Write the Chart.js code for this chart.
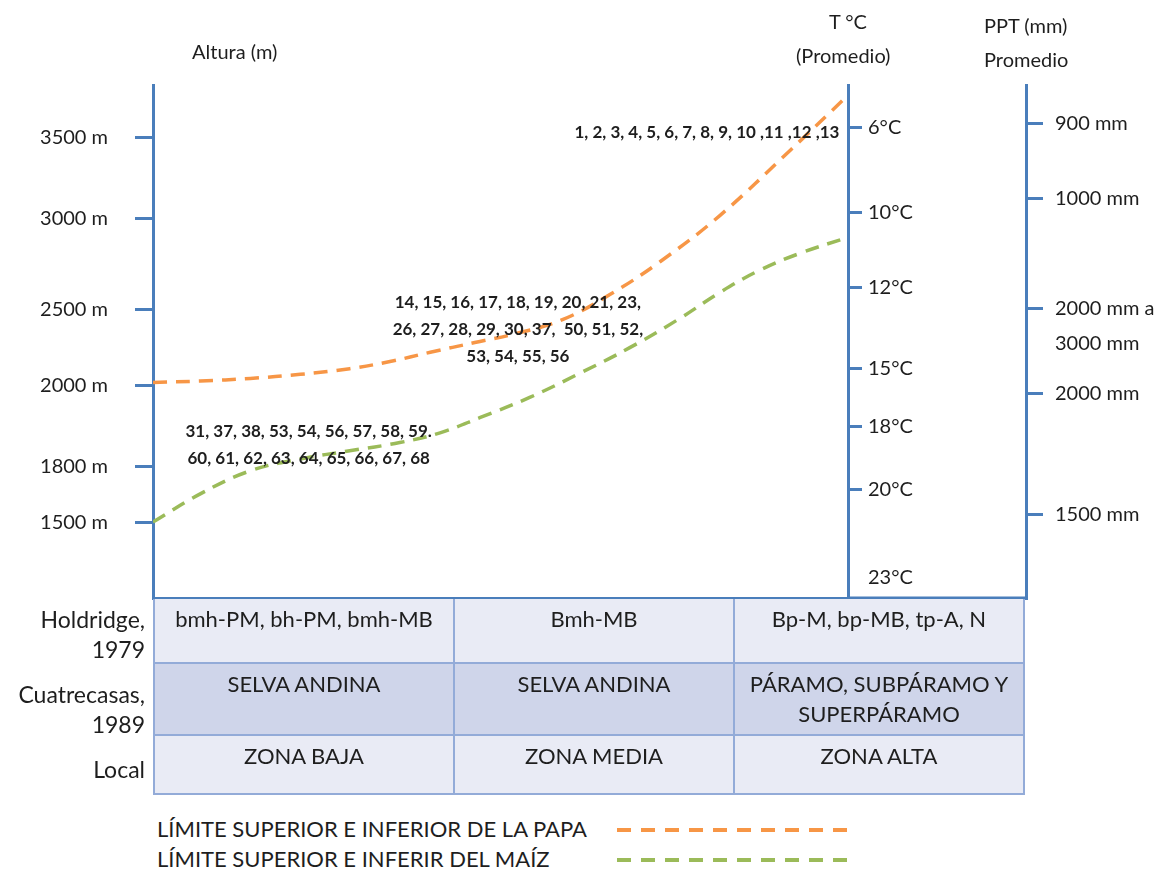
<!DOCTYPE html>
<html>
<head>
<meta charset="utf-8">
<script src="https://cdn.jsdelivr.net/npm/chart.js@4"></script>
<style>
  body { margin: 0; background: #fff; font-family: Lato, sans-serif; color: #1e1e1e; }
  #wrap { position: relative; width: 1164px; height: 875px; overflow: hidden; }
  #chart { position: absolute; left: 0; top: 0; }
  .ttl { position: absolute; font-size: 20px; white-space: nowrap; }
  #tabla { position: absolute; left: 0; top: 599px; display: grid;
           grid-template-columns: 153px 302px 280px 290px; grid-template-rows: 65px 72px 59px; }
  #tabla div { box-sizing: border-box; font-size: 22px; line-height: 30px; text-align: center; padding-top: 5px; }
  #tabla .lab { text-align: right; padding-right: 8px; font-size: 23px; }
  #tabla .c { border-right: 2px solid #93abd8; border-bottom: 2px solid #93abd8; }
  #tabla .c1 { border-left: 2px solid #93abd8; }
  #tabla .r0, #tabla .r2 { background: #e9ebf5; }
  #tabla .r1 { background: #cfd5ea; }
  .leg { position: absolute; left: 157px; font-size: 22px; white-space: nowrap; }
  .dash { position: absolute; left: 617px; width: 231px; height: 4px; }
</style>
</head>
<body>
<div id="wrap">
  <canvas id="chart" width="1164" height="637"></canvas>
  <div class="ttl" style="left:192px;top:39px">Altura (m)</div>
  <div class="ttl" style="left:829px;top:9px">T °C</div>
  <div class="ttl" style="left:796px;top:43px">(Promedio)</div>
  <div class="ttl" style="left:984px;top:13px">PPT (mm)</div>
  <div class="ttl" style="left:984px;top:47px">Promedio</div>
  <div id="tabla"></div>
  <div id="leyenda"></div>
</div>
<script>
// schematic levels: 0 = base of the diagram, 100 = top (the axes are not to scale)
const altLabels = ['3500 m', '3000 m', '2500 m', '2000 m', '1800 m', '1500 m'];
const altLevels = [89.8, 74.0, 56.3, 41.4, 25.6, 14.8];

const tempLabels = ['6°C', '10°C', '12°C', '15°C', '18°C', '20°C', '23°C'];
const tempLevels = [91.7, 75.2, 60.5, 44.8, 33.4, 21.2, 3.9];
const tempMarks = [true, true, true, true, true, true, false];

const pptLabels = ['900 mm', '1000 mm', '2000 mm a', '3000 mm', '2000 mm', '1500 mm'];
const pptLevels = [92.4, 77.9, 56.4, 49.6, 39.8, 16.2];
const pptMarks = [true, true, true, false, true, true];

// limits of the crops (x = position across the diagram, 0..100)
const papaX = [0, 6.8, 14.0, 21.2, 28.3, 34.1, 39.9, 46.3, 52.4, 59.0, 65.8, 73.0, 81.6, 91.7, 100];
const papaY = [42.0, 42.3, 42.8, 43.6, 44.7, 46.1, 47.9, 49.8, 51.6, 54.3, 59.2, 65.6, 74.6, 87.3, 98.0];
const maizX = [0, 6.8, 14.0, 21.2, 28.3, 35.5, 41.3, 47.1, 54.2, 61.4, 68.6, 75.8, 81.6, 87.3, 93.1, 100];
const maizY = [14.8, 20.3, 24.8, 27.1, 28.7, 30.3, 32.2, 35.2, 39.1, 43.8, 48.8, 54.5, 59.6, 63.9, 67.2, 70.3];

// sample numbers written on the diagram
const grupoAlta = ['1, 2, 3, 4, 5, 6, 7, 8, 9, 10 ,11 ,12 ,13'];
const grupoMedia = ['14, 15, 16, 17, 18, 19, 20, 21, 23,', '26, 27, 28, 29, 30, 37,  50, 51, 52,', '53, 54, 55, 56'];
const grupoBaja = ['31, 37, 38, 53, 54, 56, 57, 58, 59.', '60, 61, 62, 63, 64, 65, 66, 67, 68'];

// table under the diagram
const filaNombres = [['Holdridge,', '1979'], ['Cuatrecasas,', '1989'], ['Local']];
const filaPad = [5, 15, 18];
const tablaCeldas = [
  ['bmh-PM, bh-PM, bmh-MB', 'Bmh-MB', 'Bp-M, bp-MB, tp-A, N'],
  ['SELVA ANDINA', 'SELVA ANDINA', 'PÁRAMO, SUBPÁRAMO Y<br>SUPERPÁRAMO'],
  ['ZONA BAJA', 'ZONA MEDIA', 'ZONA ALTA']
];

const legendTexts = ['LÍMITE SUPERIOR E INFERIOR DE LA PAPA', 'LÍMITE SUPERIOR E INFERIR DEL MAÍZ'];

const blue = '#4a7ebb';
const orange = '#f79646';
const green = '#9bbb59';

const annotations = [
  { lines: grupoAlta, x: 79.7, y: 90.8 },
  { lines: grupoMedia, x: 52.5, y: 57.6 },
  { lines: grupoBaja, x: 22.4, y: 32.4 }
];

function pts(xs, ys) { return xs.map((x, i) => ({ x: x, y: ys[i] })); }

function fixedTicks(levels) {
  return scale => { scale.ticks = levels.map(v => ({ value: v })); };
}

const numbersPlugin = {
  id: 'numbers',
  afterDatasetsDraw(chart) {
    const ctx = chart.ctx;
    const xs = chart.scales.x, ys = chart.scales.y;
    ctx.save();
    ctx.font = 'bold 17px Lato';
    ctx.fillStyle = '#1e1e1e';
    ctx.textAlign = 'center';
    ctx.textBaseline = 'middle';
    annotations.forEach(a => {
      const px = xs.getPixelForValue(a.x);
      const py = ys.getPixelForValue(a.y);
      a.lines.forEach((t, i) => ctx.fillText(t, px, py + i * 27));
    });
    // bottom closing line between the two right axes
    const yP = chart.scales.yP;
    ctx.strokeStyle = blue;
    ctx.lineWidth = 3;
    ctx.beginPath();
    ctx.moveTo(chart.chartArea.right, chart.chartArea.bottom);
    ctx.lineTo(yP.left + 1.5, chart.chartArea.bottom);
    ctx.stroke();
    ctx.restore();
  }
};

const tickFont = { family: 'Lato', size: 20 };

new Chart(document.getElementById('chart'), {
  type: 'line',
  data: {
    datasets: [
      { label: legendTexts[0], data: pts(papaX, papaY), borderColor: orange, borderWidth: 3.5,
        borderDash: [14, 9], pointRadius: 0, tension: 0.4, yAxisID: 'y' },
      { label: legendTexts[1], data: pts(maizX, maizY), borderColor: green, borderWidth: 3.5,
        borderDash: [14, 9], pointRadius: 0, tension: 0.4, yAxisID: 'y' }
    ]
  },
  options: {
    responsive: false,
    devicePixelRatio: 1,
    animation: false,
    layout: { padding: { top: 85, bottom: 33, left: 0, right: 0 } },
    plugins: { legend: { display: false }, tooltip: { enabled: false } },
    scales: {
      x: {
        type: 'linear', min: 0, max: 100,
        ticks: { display: false },
        grid: { display: false },
        border: { display: true, color: blue, width: 3 },
        afterFit: s => { s.height = 0; }
      },
      y: {
        type: 'linear', position: 'left', min: 0, max: 100,
        afterBuildTicks: fixedTicks(altLevels),
        afterFit: s => { s.width = 153; },
        ticks: { autoSkip: false, padding: 27, color: '#1e1e1e', font: tickFont,
                 callback: (v, i) => altLabels[i] },
        grid: { drawOnChartArea: false, tickLength: 18, color: blue, lineWidth: 3 },
        border: { color: blue, width: 3 }
      },
      yT: {
        type: 'linear', position: 'right', weight: 0, min: 0, max: 100,
        afterBuildTicks: fixedTicks(tempLevels),
        afterFit: s => { s.width = 178; },
        ticks: { autoSkip: false, padding: 6, color: '#1e1e1e', font: tickFont,
                 callback: (v, i) => tempLabels[i] },
        grid: { drawOnChartArea: false, tickLength: 14, lineWidth: 3,
                color: c => tempMarks[c.index] ? blue : 'rgba(0,0,0,0)' },
        border: { color: blue, width: 3 }
      },
      yP: {
        type: 'linear', position: 'right', weight: 1, min: 0, max: 100,
        afterBuildTicks: fixedTicks(pptLevels),
        afterFit: s => { s.width = 138; },
        ticks: { autoSkip: false, padding: 12, color: '#1e1e1e', font: tickFont,
                 callback: (v, i) => pptLabels[i] },
        grid: { drawOnChartArea: false, tickLength: 17, lineWidth: 3,
                color: c => pptMarks[c.index] ? blue : 'rgba(0,0,0,0)' },
        border: { color: blue, width: 3 }
      }
    }
  },
  plugins: [numbersPlugin]
});

// table
const tabla = document.getElementById('tabla');
tablaCeldas.forEach((fila, r) => {
  const lab = document.createElement('div');
  lab.className = 'lab';
  lab.style.paddingTop = filaPad[r] + 'px';
  lab.innerHTML = filaNombres[r].join('<br>');
  tabla.appendChild(lab);
  fila.forEach((txt, c) => {
    const d = document.createElement('div');
    d.className = 'c r' + r + (c === 0 ? ' c1' : '');
    d.innerHTML = txt;
    tabla.appendChild(d);
  });
});

// legend
const leyenda = document.getElementById('leyenda');
[orange, green].forEach((col, i) => {
  const t = document.createElement('div');
  t.className = 'leg';
  t.style.top = (815 + i * 30) + 'px';
  t.textContent = legendTexts[i];
  leyenda.appendChild(t);
  const d = document.createElement('div');
  d.className = 'dash';
  d.style.top = (828 + i * 30) + 'px';
  d.style.background = 'repeating-linear-gradient(90deg,' + col + ' 0 14px, transparent 14px 24px)';
  leyenda.appendChild(d);
});
</script>
</body>
</html>
